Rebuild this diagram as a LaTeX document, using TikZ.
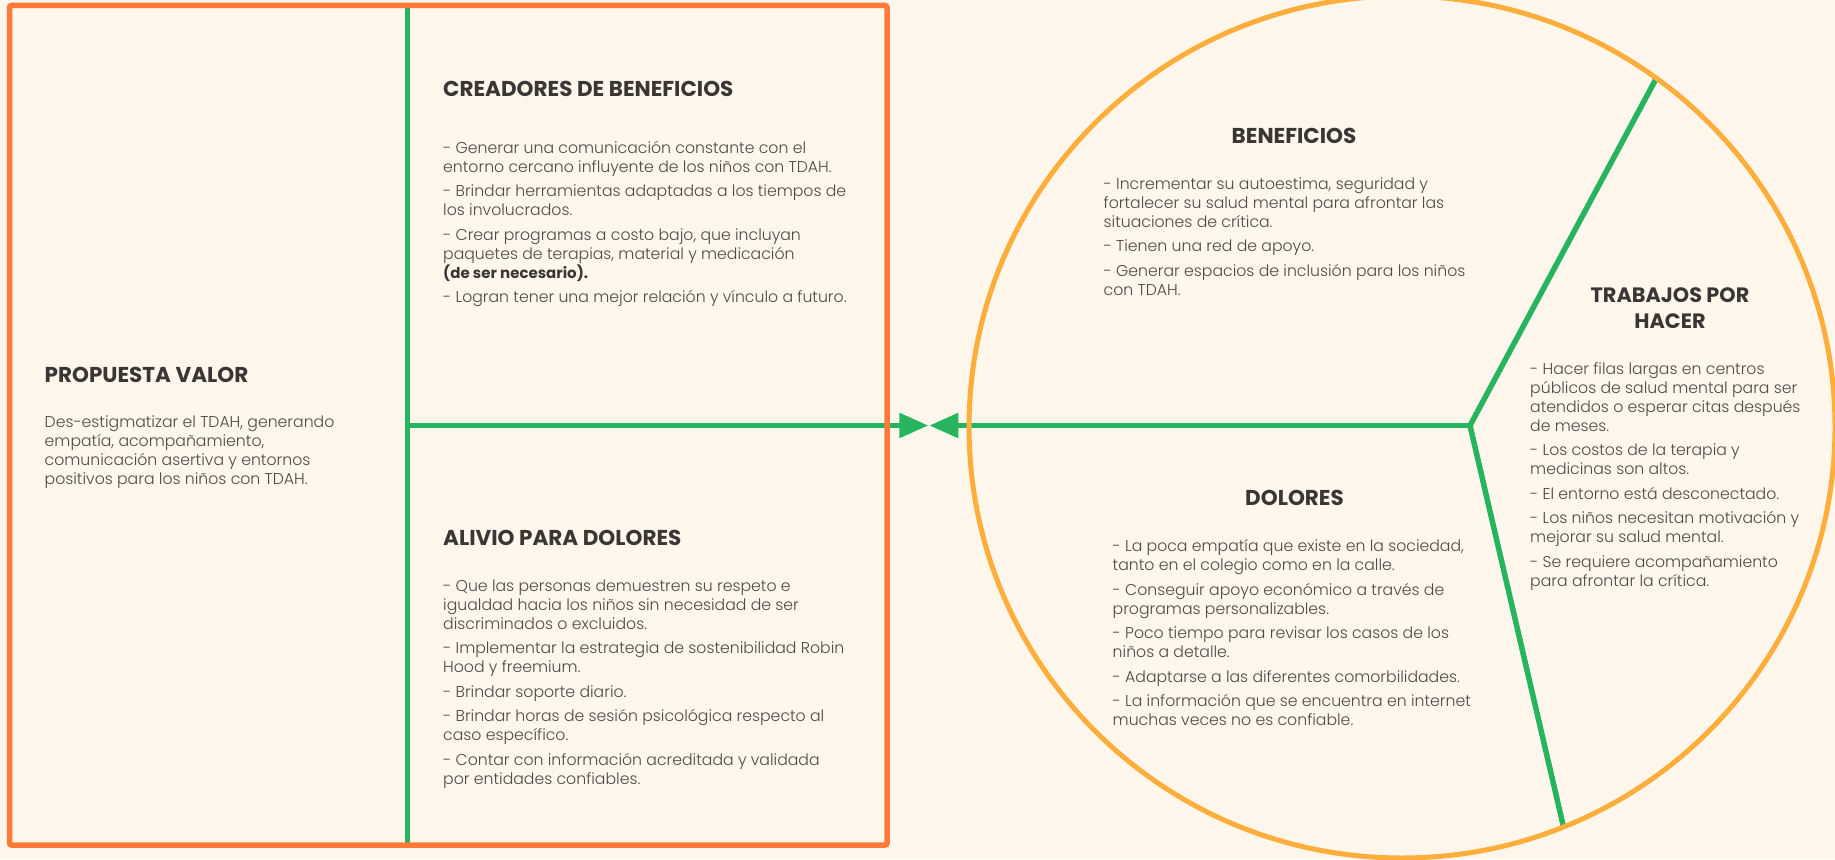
\documentclass[tikz,border=0pt]{standalone}
\usepackage{fontspec}
\IfFontExistsTF{Poppins Light}{\setmainfont{Poppins}[UprightFont=* Light, BoldFont=* Bold]}{\setmainfont{Poppins}}
\usetikzlibrary{arrows.meta}
\definecolor{bgc}{HTML}{FFF6EC}
\definecolor{orng}{HTML}{FF7A38}
\definecolor{ring}{HTML}{FFAE3B}
\definecolor{grn}{HTML}{27B45E}
\definecolor{head}{HTML}{3A3634}
\definecolor{bodyc}{HTML}{4E4A47}
\newcommand{\fs}{\rule{0pt}{14pt}}
\begin{document}
\begin{tikzpicture}[x=1pt,y=-1pt,
  headtxt/.style={inner sep=0pt, font=\fontsize{21.5}{26}\selectfont\bfseries, text=head},
  bodytxt/.style={inner sep=0pt, anchor=north west, align=left, font=\fontsize{15.7}{19}\selectfont, text=bodyc},
  grnline/.style={draw=grn, line width=5.5pt},
  tipend/.style={-{Triangle[length=29pt,width=24pt]}}]
\fill[bgc] (0,0) rectangle (1835,859);
\useasboundingbox (0,0) rectangle (1835,859);
% coordinates
\coordinate (L) at (407.7,425.5);
\coordinate (J) at (1470,425.5);
\coordinate (M1) at (928.3,425.5);
\coordinate (M2) at (929.3,425.5);
\coordinate (VT) at (407.7,5.5);
\coordinate (VB) at (407.7,845);
\coordinate (RT) at (1657,77);
\coordinate (RB) at (1564,829);
% green lines
\draw[grnline] (VT) -- (VB);
\draw[grnline] (RT) -- (J) -- (RB);
\draw[grnline, tipend] (L) -- (M1);
\draw[grnline, tipend] (J) -- (M2);
% frames
\draw[orng, line width=5.5pt, rounded corners=2pt] (9.5,5.5) rectangle (887,845);
\draw[ring, line width=5pt] (1402,427) ellipse [x radius=433, y radius=431];
% headings
\node[headtxt, anchor=base west] (creh) at (443,96.7) {CREADORES DE BENEFICIOS};
\node[headtxt, anchor=base west] (proh) at (44.5,382) {PROPUESTA VALOR};
\node[headtxt, anchor=base west] (alih) at (443,545) {ALIVIO PARA DOLORES};
\node[headtxt, anchor=base] (benh) at (1294,143) {BENEFICIOS};
\node[headtxt, anchor=base] (dolh) at (1294.5,505) {DOLORES};
\node[headtxt, anchor=north, align=center, font=\fontsize{20.8}{26}\selectfont\bfseries] (trah) at (1670,282) {\rule{0pt}{20pt}TRABAJOS POR\\HACER};
% bodies
\node[bodytxt] (creb) at (443,139) {\fs- Generar una comunicación constante con el\\
entorno cercano influyente de los niños con TDAH.\\[5.5pt]
- Brindar herramientas adaptadas a los tiempos de\\
los involucrados.\\[5.5pt]
- Crear programas a costo bajo, que incluyan\\
paquetes de terapias, material y medicación\\
{\color{head}\bfseries\fontsize{15}{19}\selectfont (de ser necesario).}\\[5.5pt]
- Logran tener una mejor relación y vínculo a futuro.};
\node[bodytxt] (prob) at (44.5,413) {\fs Des-estigmatizar el TDAH, generando\\
empatía, acompañamiento,\\
comunicación asertiva y entornos\\
positivos para los niños con TDAH.};
\node[bodytxt] (alib) at (443,577) {\fs- Que las personas demuestren su respeto e\\
igualdad hacia los niños sin necesidad de ser\\
discriminados o excluidos.\\[5.5pt]
- Implementar la estrategia de sostenibilidad Robin\\
Hood y freemium.\\[5.5pt]
- Brindar soporte diario.\\[5.5pt]
- Brindar horas de sesión psicológica respecto al\\
caso específico.\\[5.5pt]
- Contar con información acreditada y validada\\
por entidades confiables.};
\node[bodytxt] (benb) at (1103.5,175) {\fs- Incrementar su autoestima, seguridad y\\
fortalecer su salud mental para afrontar las\\
situaciones de crítica.\\[5.5pt]
- Tienen una red de apoyo.\\[5.5pt]
- Generar espacios de inclusión para los niños\\
con TDAH.};
\node[bodytxt] (trab) at (1530,360) {\fs- Hacer filas largas en centros\\
públicos de salud mental para ser\\
atendidos o esperar citas después\\
de meses.\\[5.5pt]
- Los costos de la terapia y\\
medicinas son altos.\\[5.5pt]
- El entorno está desconectado.\\[5.5pt]
- Los niños necesitan motivación y\\
mejorar su salud mental.\\[5.5pt]
- Se requiere acompañamiento\\
para afrontar la crítica.};
\node[bodytxt] (dolb) at (1112.5,537.5) {\fs- La poca empatía que existe en la sociedad,\\
tanto en el colegio como en la calle.\\[5.5pt]
- Conseguir apoyo económico a través de\\
programas personalizables.\\[5.5pt]
- Poco tiempo para revisar los casos de los\\
niños a detalle.\\[5.5pt]
- Adaptarse a las diferentes comorbilidades.\\[5.5pt]
- La información que se encuentra en internet\\
muchas veces no es confiable.};
\end{tikzpicture}
\end{document}
